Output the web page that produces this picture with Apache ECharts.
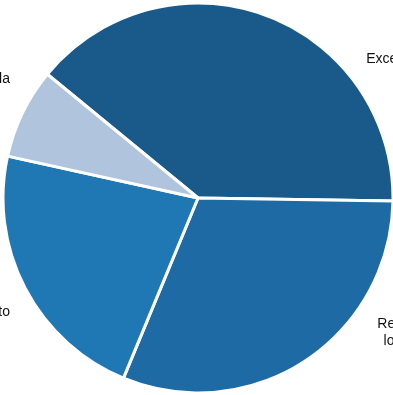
<!DOCTYPE html>
<html>
<head>
<meta charset="utf-8">
<style>
html,body{margin:0;padding:0;background:#fff;}
#chart{width:393px;height:395px;}
</style>
<script src="https://cdn.jsdelivr.net/npm/echarts@6/dist/echarts.min.js"></script>
</head>
<body>
<div id="chart"></div>
<script>
const categories = ["Excedente de\ncaixa", "Renda\nlocal", "Investimento", "Escola"];
const values = [39.3, 31.0, 22.2, 7.5];
const colors = ["#1a5a8a", "#1d6aa4", "#1f77b4", "#b0c4de"];

const labelPos = [
  {x: 409, y: 68, align: "center"},
  {x: 398, y: 333, align: "center"},
  {x: 10, y: 312, align: "right"},
  {x: 10, y: 79, align: "right"}
];

const chart = echarts.init(document.getElementById("chart"), null, {renderer: "canvas"});
chart.setOption({
  animation: false,
  backgroundColor: "#ffffff",
  series: [{
    type: "pie",
    center: [198, 198],
    radius: 195,
    startAngle: 140.6,
    clockwise: true,
    avoidLabelOverlap: false,
    itemStyle: {borderColor: "#ffffff", borderWidth: 3},
    label: {
      show: true,
      color: "#111111",
      fontSize: 14,
      lineHeight: 17,
      fontFamily: "Liberation Sans, Arial, sans-serif",
      formatter: "{b}"
    },
    labelLine: {show: false},
    labelLayout: function (p) {
      const lp = labelPos[p.dataIndex];
      return {x: lp.x, y: lp.y, align: lp.align, verticalAlign: "middle", hideOverlap: false};
    },
    data: categories.map((c, i) => ({name: c, value: values[i], itemStyle: {color: colors[i]}}))
  }]
});
</script>
</body>
</html>
